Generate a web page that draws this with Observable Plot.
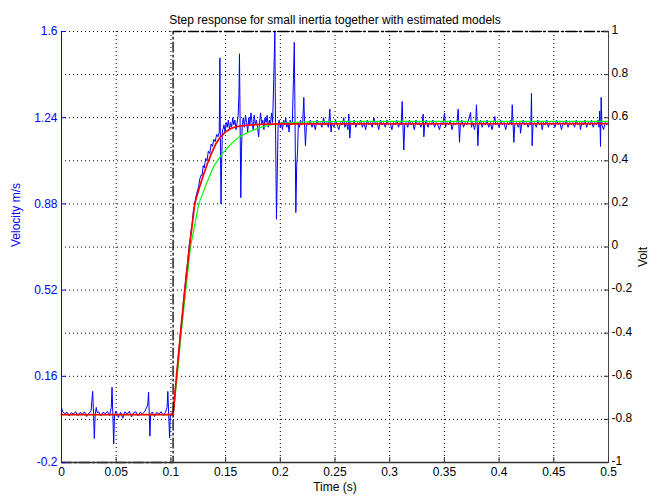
<!DOCTYPE html>
<html><head><meta charset="utf-8">
<script src="https://cdn.jsdelivr.net/npm/d3@7"></script>
<script src="https://cdn.jsdelivr.net/npm/@observablehq/plot@0.6"></script>
<style>html,body{margin:0;padding:0;background:#fff} svg{display:block}</style>
</head><body><div id="chart"></div>
<script>
// ---- tick labels ----
const xTicks = [0, 0.05, 0.1, 0.15, 0.2, 0.25, 0.3, 0.35, 0.4, 0.45, 0.5];
const velTicks = [-0.2, 0.16, 0.52, 0.88, 1.24, 1.6];
const voltTicks = [-1, -0.8, -0.6, -0.4, -0.2, 0, 0.2, 0.4, 0.6, 0.8, 1];

// ---- input voltage (step, right axis, Volt) ----
const stepTime = [0, 0.102, 0.102, 0.5];
const stepVolt = [-1, -1, 1, 1];

// ---- model 1 (red) ----
const redTime = [0, 0.102, 0.1051, 0.1088, 0.1127, 0.117, 0.1218, 0.1245, 0.127, 0.130, 0.1335, 0.137, 0.141, 0.145, 0.15, 0.155, 0.16, 0.168, 0.18, 0.2, 0.5];
const redVel  = [0, 0, 0.16, 0.34, 0.52, 0.70, 0.88, 0.925, 0.962, 1.005, 1.05, 1.09, 1.13, 1.158, 1.181, 1.195, 1.203, 1.208, 1.212, 1.214, 1.215];

// ---- model 2 (green) ----
const greenTime = [0, 0.102, 0.1058, 0.1094, 0.1136, 0.1179, 0.1255, 0.132, 0.1395, 0.147, 0.155, 0.1625, 0.171, 0.18, 0.19, 0.2, 0.215, 0.235, 0.27, 0.5];
const greenVel  = [0, 0, 0.16, 0.34, 0.52, 0.70, 0.88, 0.96, 1.04, 1.09, 1.13, 1.16, 1.18, 1.197, 1.209, 1.216, 1.221, 1.224, 1.225, 1.225];

// ---- measured velocity (blue) ----
const blueTime = [
0.000,0.001,0.003,0.005,0.007,0.009,0.011,0.013,0.015,0.017,0.019,0.021,0.023,0.025,0.027,0.0285,0.0293,0.0300,0.0308,0.0318,0.0326,
0.034,0.036,0.038,0.040,0.042,0.044,0.0455,0.0462,0.0469,0.0477,0.0485,0.050,0.052,0.054,0.056,0.058,0.060,0.062,0.064,0.066,0.068,
0.070,0.072,0.074,0.076,0.0788,0.0796,0.0802,0.0808,0.0815,0.083,0.085,0.087,0.089,0.091,0.093,0.095,0.0965,0.0972,0.0980,0.0988,0.0995,0.101,0.102,
0.1030,0.1045,0.1060,0.1072,0.1080,0.1095,0.1105,0.1118,0.1130,0.1140,0.1152,0.1165,0.1175,0.1185,0.1195,0.1205,0.1215,0.1228,0.1240,0.1252,
0.1262,0.1275,0.1285,0.1295,0.1305,0.1318,0.1330,0.1342,0.1355,0.1368,0.1380,0.1392,0.1405,0.1418,0.1430,0.1442,0.1448,0.1453,0.1458,0.1463,0.1470,
0.1475,0.1485,0.1495,0.1505,0.1515,0.1525,0.1535,0.1545,0.1555,0.1565,0.1575,0.1585,0.1595,0.1605,0.1615,0.1622,0.1627,0.1633,0.1639,0.1645,
0.1652,0.1662,0.1672,0.1682,0.1692,0.1702,0.1712,0.1722,0.1732,0.1742,0.1752,0.1762,0.1772,0.1782,0.1792,0.1802,0.1810,0.1820,0.1830,0.1840,
0.1850,0.1860,0.1870,0.1880,0.1890,0.1900,0.1910,0.1920,0.1930,0.1940,0.1950,0.1956,0.1965,0.1972,0.1980,0.1990,0.2000,0.2010,0.2020,0.2030,
0.2040,0.2050,0.2060,0.2070,0.2080,0.2090,0.2100,0.2110,0.2120,0.2128,0.2135,0.2142,0.2150,0.2158,0.2165,0.2175,0.2185,0.2195,0.2205,0.2215,
0.2222,0.2230,0.2238,0.2248,0.2258,0.2275,0.2290,0.2305,0.2320,0.2335,0.2350,0.2365,0.2380,0.2395,0.2410,0.2425,0.2440,0.2453,0.2459,0.2465,
0.2472,0.2490,0.2505,0.2520,0.2535,0.2550,0.2565,0.2580,0.2590,0.2605,0.2618,0.2626,0.2635,0.2645,0.2660,0.2675,0.2690,0.2705,0.2720,0.2735,
0.2750,0.2765,0.2780,0.2795,0.2810,0.2825,0.2840,0.2855,0.2870,0.2885,0.2900,0.2915,0.2930,0.2945,0.2960,0.2975,0.2990,0.3005,0.3020,0.3035,
0.3050,0.3065,0.3080,0.3095,0.3105,0.3114,0.3121,0.3129,0.3137,0.3150,0.3165,0.3180,0.3195,0.3210,0.3225,0.3240,0.3255,0.3270,0.3285,0.3298,
0.3306,0.3312,0.3320,0.3335,0.3350,0.3365,0.3380,0.3395,0.3410,0.3425,0.3440,0.3455,0.3470,0.3485,0.3501,0.3510,0.3525,0.3540,0.3555,0.3570,
0.3585,0.3600,0.3615,0.3626,0.3632,0.3638,0.3646,0.3660,0.3675,0.3690,0.3705,0.3720,0.3739,0.3747,0.3760,0.3775,0.3786,0.3793,0.3800,0.3806,
0.3814,0.3830,0.3845,0.3860,0.3875,0.3890,0.3905,0.3920,0.3935,0.3950,0.3961,0.3970,0.3985,0.4000,0.4015,0.4030,0.4045,0.4060,0.4075,0.4090,
0.4105,0.4114,0.4120,0.4128,0.4135,0.4143,0.4160,0.4175,0.4190,0.4196,0.4205,0.4220,0.4235,0.4250,0.4265,0.4280,0.4290,0.4296,0.4302,0.4310,
0.4325,0.4340,0.4355,0.4370,0.4385,0.4394,0.4405,0.4420,0.4435,0.4450,0.4465,0.4480,0.4495,0.4510,0.4525,0.4540,0.4555,0.4570,0.4585,0.4600,
0.4615,0.4630,0.4645,0.4660,0.4675,0.4690,0.4705,0.4720,0.4735,0.4744,0.4755,0.4770,0.4785,0.4800,0.4815,0.4830,0.4845,0.4860,0.4875,0.4890,
0.4905,0.4913,0.4920,0.4927,0.4933,0.4940,0.4955,0.4970,0.4985,0.5000];
const blueVel = [
0.030,0.012,0.004,0.010,-0.006,0.008,0.002,0.012,-0.004,0.009,0.003,0.011,-0.008,0.006,0.014,0.097,0.005,-0.100,0.002,0.030,0.008,
0.012,-0.005,0.010,0.004,0.013,-0.003,0.030,0.114,0.004,-0.123,0.000,0.015,-0.012,0.010,-0.015,0.012,0.002,0.014,-0.010,0.008,0.012,
-0.006,0.010,0.003,0.012,0.040,0.094,0.004,-0.090,0.003,0.011,-0.008,0.009,0.002,0.012,-0.004,0.010,0.030,0.097,0.000,-0.098,0.002,0.008,0.004,
0.03,0.12,0.20,0.27,0.30,0.38,0.42,0.49,0.54,0.59,0.63,0.70,0.73,0.77,0.80,0.85,0.87,0.91,0.93,0.95,
0.98,1.00,1.00,1.04,1.03,1.07,1.06,1.10,1.09,1.13,1.12,1.15,1.14,1.17,1.16,1.18,1.49,1.10,0.88,1.02,1.18,
1.19,1.21,1.18,1.22,1.20,1.23,1.19,1.22,1.20,1.24,1.21,1.23,1.19,1.22,1.25,1.34,1.507,1.20,0.906,1.10,
1.21,1.24,1.20,1.25,1.22,1.18,1.24,1.21,1.26,1.22,1.19,1.25,1.21,1.23,1.20,1.16,1.22,1.26,1.21,1.23,
1.19,1.24,1.22,1.25,1.20,1.23,1.21,1.26,1.22,1.40,1.60,1.22,0.816,1.00,1.21,1.23,1.20,1.22,1.19,1.23,
1.21,1.24,1.20,1.22,1.18,1.23,1.21,1.22,1.40,1.555,1.21,0.844,1.04,1.10,1.22,1.20,1.23,1.21,1.22,1.325,
1.21,1.123,1.20,1.22,1.21,1.23,1.20,1.22,1.19,1.23,1.21,1.22,1.20,1.24,1.21,1.22,1.20,1.276,1.21,1.18,
1.22,1.20,1.23,1.21,1.19,1.22,1.21,1.24,1.20,1.22,1.19,1.255,1.155,1.22,1.21,1.23,1.20,1.22,1.21,1.23,
1.20,1.22,1.19,1.23,1.21,1.22,1.20,1.24,1.21,1.22,1.19,1.23,1.21,1.22,1.20,1.23,1.21,1.22,1.19,1.22,
1.21,1.23,1.20,1.22,1.21,1.308,1.21,1.105,1.21,1.22,1.20,1.23,1.21,1.22,1.19,1.23,1.21,1.22,1.20,1.22,
1.255,1.16,1.21,1.23,1.20,1.22,1.21,1.23,1.20,1.22,1.21,1.19,1.22,1.21,1.26,1.20,1.22,1.21,1.23,1.19,
1.22,1.21,1.22,1.276,1.21,1.137,1.21,1.23,1.20,1.22,1.21,1.23,1.262,1.20,1.22,1.19,1.22,1.294,1.21,1.123,
1.21,1.23,1.20,1.22,1.21,1.23,1.20,1.22,1.19,1.22,1.245,1.21,1.22,1.20,1.23,1.21,1.22,1.19,1.22,1.21,
1.23,1.21,1.294,1.21,1.137,1.21,1.22,1.20,1.22,1.175,1.21,1.23,1.21,1.22,1.20,1.22,1.21,1.342,1.123,1.21,
1.22,1.20,1.23,1.21,1.22,1.19,1.22,1.21,1.23,1.20,1.22,1.21,1.22,1.20,1.23,1.21,1.22,1.19,1.22,1.21,
1.23,1.20,1.22,1.21,1.22,1.20,1.23,1.21,1.22,1.19,1.22,1.21,1.23,1.20,1.22,1.21,1.23,1.20,1.22,1.21,
1.23,1.20,1.268,1.12,1.325,1.21,1.19,1.22,1.21,1.22];

// right axis (Volt, -1..1) shares the frame with the velocity axis (-0.2..1.6)
const voltToVel = V => -0.2 + (V + 1) * 0.9;
const voltTickVel = voltTicks.map(voltToVel);
const voltLabel = new Map(voltTickVel.map((v, i) => [v, String(voltTicks[i])]));

const font = "'Liberation Sans', Arial, Helvetica, sans-serif";

const chart = Plot.plot({
  width: 649,
  height: 498,
  marginLeft: 61,
  marginRight: 41,
  marginTop: 31,
  marginBottom: 36,
  style: {fontFamily: font, fontSize: "12px", background: "white", overflow: "visible"},
  x: {domain: [0, 0.5]},
  y: {domain: [-0.2, 1.6]},
  marks: [
    Plot.gridX(xTicks, {stroke: "black", strokeOpacity: 1, strokeDasharray: "1,3", strokeWidth: 1}),
    Plot.gridY(voltTickVel, {stroke: "black", strokeOpacity: 1, strokeDasharray: "1,3", strokeWidth: 1}),
    Plot.line(blueVel, {x: blueTime, y: d => d, stroke: "#0000ff", strokeWidth: 1, clip: true}),
    Plot.line(greenVel, {x: greenTime, y: d => d, stroke: "#00ff00", strokeWidth: 1.2}),
    Plot.line(redVel, {x: redTime, y: d => d, stroke: "#ff0000", strokeWidth: 1.7}),
    Plot.line(stepVolt, {x: stepTime, y: d => voltToVel(d), stroke: "black", strokeWidth: 1.3, strokeDasharray: "10,3,2,3"}),
    // frame lines
    Plot.ruleY([-0.2], {stroke: "#333", strokeWidth: 1.4}),
    Plot.ruleX([0.5], {stroke: "#444", strokeWidth: 1}),
    Plot.ruleX([0], {stroke: "#0000ff", strokeWidth: 1}),
    // inward ticks
    Plot.axisY(velTicks, {anchor: "left", tickSize: -5, tickFormat: () => "", stroke: "#0000ff", label: null}),
    Plot.axisY(voltTickVel, {anchor: "right", tickSize: -5, tickFormat: () => "", stroke: "#333", label: null}),
    Plot.axisX(xTicks, {anchor: "bottom", tickSize: -5, tickFormat: () => "", stroke: "#333", label: null}),
    // tick labels
    Plot.axisY(velTicks, {anchor: "left", tickSize: 0, tickPadding: 4, tickFormat: d => String(d), fill: "#0000ff", label: null}),
    Plot.axisY(voltTickVel, {anchor: "right", tickSize: 0, tickPadding: 3, dy: -1.5, tickFormat: d => voltLabel.get(d), fill: "black", label: null}),
    Plot.axisX(xTicks, {anchor: "bottom", tickSize: 0, tickPadding: 5, tickFormat: d => String(d), fill: "black", label: null}),
    // titles
    Plot.text(["Step response for small inertia together with estimated models"], {frameAnchor: "top", dy: -16, fill: "black", fontSize: 12}),
    Plot.text(["Velocity m/s"], {frameAnchor: "left", dx: -45, rotate: -90, fill: "#0000ff", fontSize: 12}),
    Plot.text(["Volt"], {frameAnchor: "right", dx: 35, rotate: -90, fill: "black", fontSize: 12}),
    Plot.text(["Time (s)"], {frameAnchor: "bottom", dy: 28, fill: "black", fontSize: 12})
  ]
});
document.getElementById("chart").appendChild(chart);
</script>
</body></html>
